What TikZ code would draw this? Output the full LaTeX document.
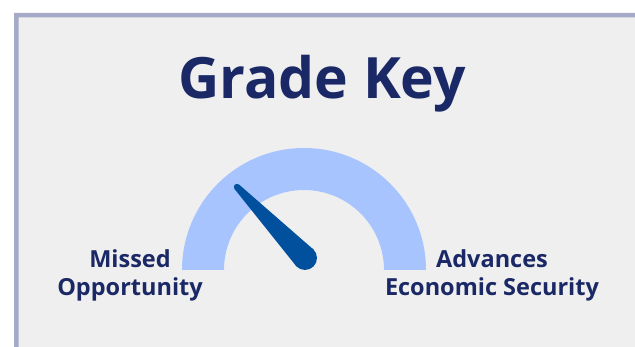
\documentclass[tikz,border=0pt]{standalone}
\usepackage{fontspec}
\setmainfont{Open Sans}
\usetikzlibrary{calc}
\definecolor{navy}{RGB}{27, 40, 102}
\definecolor{panelgrey}{RGB}{239, 239, 239}
\definecolor{rimblue}{RGB}{165, 170, 200}
\definecolor{gaugeblue}{RGB}{168, 196, 255}
\definecolor{needleblue}{RGB}{0, 80, 158}
\tikzset{%
    keylabel/.style={%
        text=navy, font=\fontsize{23.5}{28}\selectfont\bfseries,
        align=center, inner sep=0pt, anchor=base
    }
}

\begin{document}
\begin{tikzpicture}[x=1pt, y=1pt]

    \useasboundingbox (0, 0) rectangle (635, 347);

    % Panel
    \fill[white] (0, 0) rectangle (635, 347);
    \fill[panelgrey] (14, 0) rectangle (635, 334);
    \fill[rimblue] (14, 0) rectangle (18.5, 334)
                   (14, 329.5) rectangle (635, 334);

    % Title
    \node[text=navy, font=\fontsize{57}{60}\selectfont\bfseries,
          inner sep=0pt, anchor=base] (title) at (322, 248) {Grade Key};

    % Gauge
    \coordinate (centre) at (304, 77);
    \fill[gaugeblue] ([xshift=122pt] centre) arc (0:180:122)
        -- ([xshift=-80pt] centre) arc (180:0:80) -- cycle;

    % Needle
    \coordinate (pivot) at (305, 89);
    \coordinate (tip) at (237, 160);
    \fill[needleblue] (pivot) circle (12) (tip) circle (3.2);
    \fill[needleblue]
        ($(pivot)!12pt!90:(tip)$) -- ($(pivot)!12pt!-90:(tip)$)
        -- ($(tip)!3.2pt!90:(pivot)$) -- ($(tip)!3.2pt!-90:(pivot)$) -- cycle;

    % Labels
    \node[keylabel] (missed) at (130, 51) {Missed\\Opportunity};
    \node[keylabel] (advances) at (492, 51) {Advances\\Economic Security};

\end{tikzpicture}
\end{document}
